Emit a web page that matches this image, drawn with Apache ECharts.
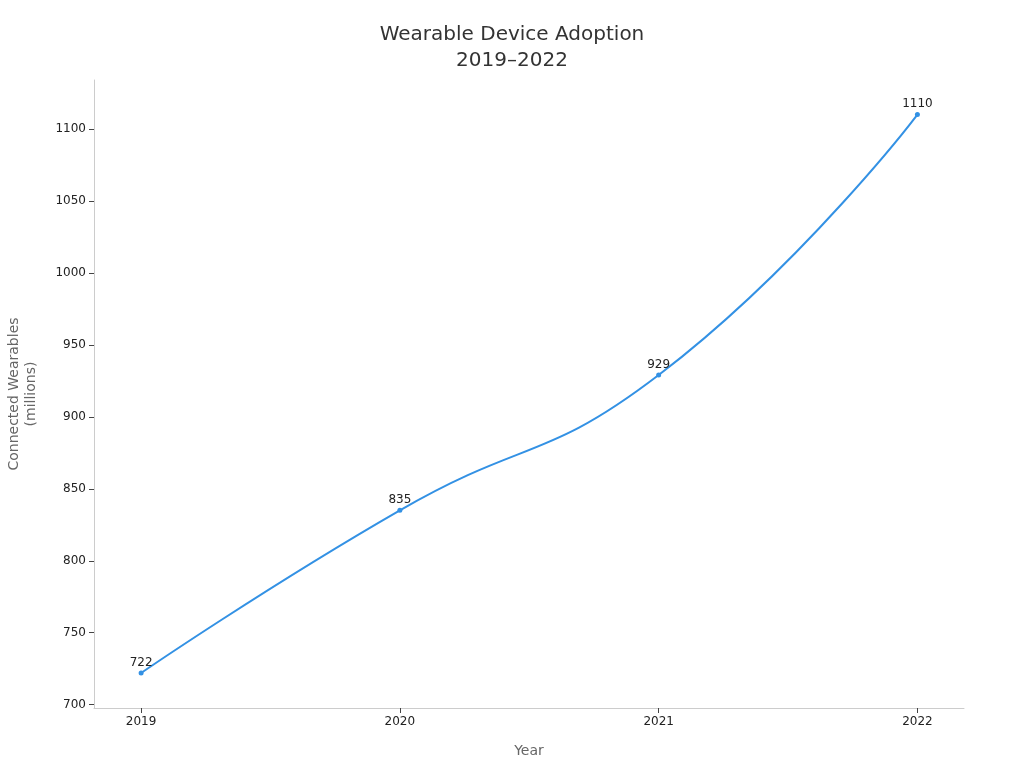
<!DOCTYPE html>
<html>
<head>
<meta charset="utf-8">
<title>Wearable Device Adoption</title>
<script src="https://cdn.jsdelivr.net/npm/echarts@6/dist/echarts.min.js"></script>
<style>
  html, body { margin: 0; padding: 0; background: #fff; }
  #main { width: 1024px; height: 768px; }
</style>
</head>
<body>
<div id="main"></div>
<script>
// data
var years = [2019, 2020, 2021, 2022];
var wearables = [722, 835, 929, 1110];
var yTicks = [700, 750, 800, 850, 900, 950, 1000, 1050, 1100];

var myChart = echarts.init(document.getElementById('main'));
var font = 'DejaVu Sans';

var points = years.map(function (y, i) { return [y, wearables[i]]; });
var plain = function (v) { return String(v); };

var option = {
    backgroundColor: '#fff',
    animation: false,
    title: {
        text: 'Wearable Device Adoption\n2019–2022',
        left: 'center',
        top: 17,
        textStyle: { fontFamily: font, fontSize: 20, fontWeight: 'normal', color: '#333', lineHeight: 26 }
    },
    grid: { left: 94, right: 60, top: 80, bottom: 60, containLabel: false, outerBoundsMode: 'none' },
    xAxis: {
        type: 'value',
        min: 2018.818,
        max: 2022.18,
        name: 'Year',
        nameLocation: 'middle',
        nameGap: 36,
        nameTextStyle: { fontFamily: font, fontSize: 14, color: '#666' },
        splitLine: { show: false },
        axisLine: { lineStyle: { color: '#ccc' } },
        axisTick: { customValues: years, length: 5, lineStyle: { color: '#444' } },
        axisLabel: { customValues: years, formatter: plain, fontFamily: font, fontSize: 12, color: '#222', margin: 8 }
    },
    yAxis: {
        type: 'value',
        min: 697.7,
        max: 1134,
        name: 'Connected Wearables\n(millions)',
        nameLocation: 'middle',
        nameGap: 54,
        nameTextStyle: { fontFamily: font, fontSize: 14, color: '#666', lineHeight: 17 },
        splitLine: { show: false },
        axisLine: { show: true, lineStyle: { color: '#ccc' } },
        axisTick: { show: true, customValues: yTicks, length: 5, lineStyle: { color: '#444' } },
        axisLabel: { customValues: yTicks, formatter: plain, fontFamily: font, fontSize: 12, color: '#222', margin: 8 }
    },
    series: [{
        name: 'Connected Wearables',
        type: 'line',
        data: points,
        smooth: 0.5,
        symbol: 'circle',
        symbolSize: 5,
        itemStyle: { color: '#3391e4' },
        lineStyle: { color: '#3391e4', width: 2 },
        label: {
            show: true,
            position: 'top',
            distance: 2,
            fontFamily: font,
            fontSize: 12,
            color: '#222'
        }
    }]
};
myChart.setOption(option);
</script>
</body>
</html>
